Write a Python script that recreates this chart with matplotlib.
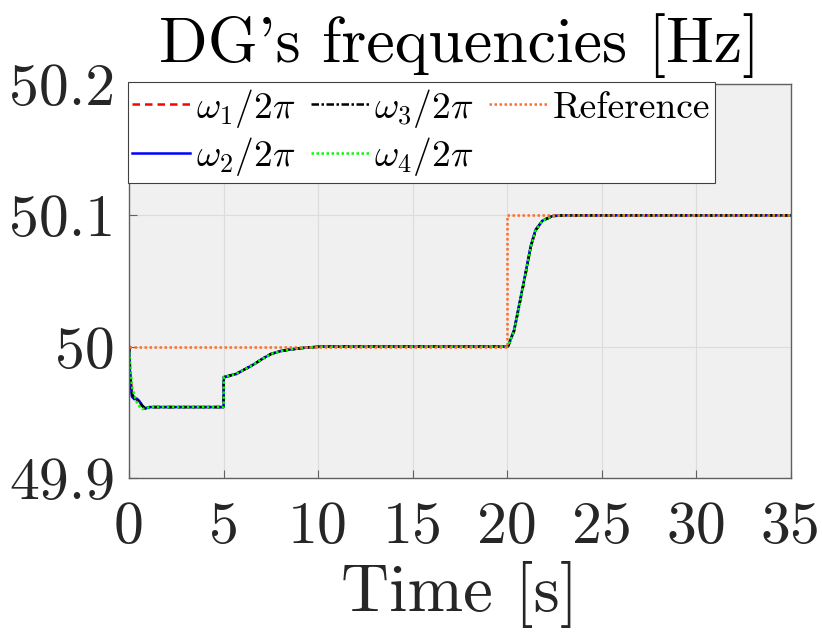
import numpy as np
import matplotlib
matplotlib.use('Agg')
import matplotlib.pyplot as plt

plt.rcParams['font.family'] = ['cmr10', 'DejaVu Serif']
plt.rcParams['mathtext.fontset'] = 'cm'
plt.rcParams['axes.unicode_minus'] = False

# ---- data ----
t = [0.0, 0.05, 0.15, 0.28, 0.4, 0.55, 0.7, 0.85, 1.1, 5.0, 5.01, 5.65, 6.1,
     6.63, 7.1, 7.5, 8.0, 8.4, 9.3, 10.1, 20.0, 20.05, 20.37, 20.9, 21.25,
     21.5, 21.87, 22.4, 23.0, 35.0]
w1 = [50.0, 49.985, 49.966, 49.961, 49.960, 49.958, 49.955, 49.953, 49.954,
      49.954, 49.9765, 49.9790, 49.9825, 49.9868, 49.9912, 49.9944, 49.9966,
      49.9976, 49.9992, 50.0, 50.0, 50.0005, 50.012, 50.050, 50.076, 50.0885,
      50.096, 50.0995, 50.1, 50.1]
w2 = [50.0, 49.978, 49.962, 49.960, 49.9605, 49.9585, 49.955, 49.953, 49.954,
      49.954, 49.9768, 49.9792, 49.9826, 49.9868, 49.9912, 49.9944, 49.9966,
      49.9976, 49.9992, 50.0, 50.0, 50.0005, 50.013, 50.051, 50.077, 50.089,
      50.096, 50.0995, 50.1, 50.1]
w3 = [50.0, 49.982, 49.964, 49.961, 49.9600, 49.9580, 49.955, 49.953, 49.954,
      49.954, 49.9768, 49.9792, 49.9826, 49.9868, 49.9912, 49.9944, 49.9966,
      49.9976, 49.9992, 50.0, 50.0, 50.0005, 50.012, 50.050, 50.076, 50.0885,
      50.096, 50.0995, 50.1, 50.1]
w4 = [50.0, 49.988, 49.970, 49.963, 49.958, 49.9545, 49.9525, 49.953, 49.954,
      49.954, 49.9768, 49.9792, 49.9826, 49.9868, 49.9912, 49.9944, 49.9966,
      49.9976, 49.9992, 50.0, 50.0, 50.0005, 50.012, 50.050, 50.076, 50.0885,
      50.096, 50.0995, 50.1, 50.1]
t_ref = [0.0, 20.0, 20.0, 35.0]
ref = [50.0, 50.0, 50.1, 50.1]

labels = [r'$\omega_1/2\pi$', r'$\omega_2/2\pi$', r'$\omega_3/2\pi$',
          r'$\omega_4/2\pi$', 'Reference']
xticks = [0, 5, 10, 15, 20, 25, 30, 35]
yticks = [49.9, 50.0, 50.1, 50.2]
yticklabels = ['49.9', '50', '50.1', '50.2']

fig = plt.figure(figsize=(8.22, 6.32), dpi=100)
ax = fig.add_axes([0.157, 0.2437, 0.805, 0.6233])
ax.set_facecolor('#f0f0f0')

ax.plot(t, w1, color='red', ls=(0, (3, 2)), lw=1.8, label=labels[0])
ax.plot(t, w2, color='blue', ls='-', lw=1.8, label=labels[1])
ax.plot(t, w3, color='black', ls=(0, (3, 1, 1, 1)), lw=1.8, label=labels[2])
ax.plot(t, w4, color='#00ff00', ls=(0, (1, 1)), lw=1.8, label=labels[3])
ax.plot(t_ref, ref, color='#ff6d2e', ls=(0, (1, 1)), lw=1.8, label=labels[4])

ax.set_xlim(0, 35)
ax.set_ylim(49.9, 50.2)
ax.set_xticks(xticks)
ax.set_yticks(yticks)
ax.set_yticklabels(yticklabels)
ax.grid(True, color='#dcdcdc', lw=0.8)
ax.set_axisbelow(True)
for s in ax.spines.values():
    s.set_color('#606060')
    s.set_linewidth(1.0)
ax.tick_params(direction='in', length=6, width=0.8, colors='#606060',
               labelcolor='#262626', labelsize=43, pad=10)
ax.tick_params(axis='x', pad=17)

ax.set_title("DG's frequencies [Hz]", fontsize=46, color='black', pad=16)
ax.set_xlabel('Time [s]', fontsize=48, color='#262626', labelpad=4)

handles, labs = ax.get_legend_handles_labels()
leg = ax.legend(handles, labs, ncol=3, loc='upper left',
                bbox_to_anchor=(-0.002, 1.005), fontsize=27, frameon=True,
                fancybox=False, edgecolor='#404040', framealpha=1.0,
                handlelength=1.55, handletextpad=0.15, columnspacing=0.4,
                labelspacing=0.15, borderpad=0.12, borderaxespad=0)
leg.get_frame().set_linewidth(0.8)

fig.savefig('out.png', dpi=100)
